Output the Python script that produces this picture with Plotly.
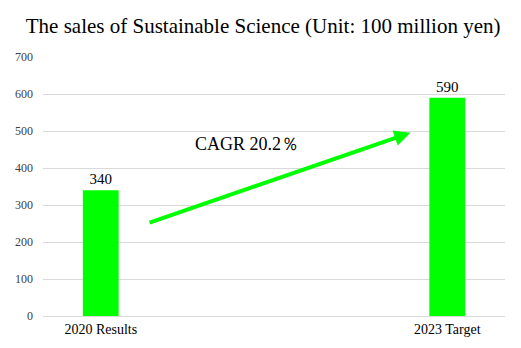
import plotly.graph_objects as go

categories = ["2020 Results", "2021", "2022", "2023 Target"]
positions = [0, 1, 2, 3]
sales = [340, None, None, 590]
tick_vals = [0, 3]
tick_text = ["2020 Results", "2023 Target"]
cagr_label = "CAGR 20.2％"
arrow_start = (0.41, 251)
arrow_end = (2.68, 495)

serif = "Times New Roman, Liberation Serif, serif"

fig = go.Figure()
fig.add_trace(go.Bar(
    x=positions, y=sales, width=0.31,
    marker=dict(color="#00FF00", line=dict(width=0)),
    text=[str(v) if v is not None else "" for v in sales],
    textposition="outside",
    textfont=dict(family=serif, size=15, color="#000000"),
    cliponaxis=False,
    hoverinfo="skip",
))

fig.add_annotation(
    x=arrow_end[0], y=arrow_end[1], ax=arrow_start[0], ay=arrow_start[1],
    xref="x", yref="y", axref="x", ayref="y",
    showarrow=True, arrowhead=2, arrowsize=0.8, arrowwidth=4,
    arrowcolor="#00FF00", text="",
)
fig.add_annotation(
    x=1.27, y=465, xref="x", yref="y", text=cagr_label, showarrow=False,
    font=dict(family=serif, size=18, color="#000000"),
)

fig.update_layout(
    width=521, height=348,
    margin=dict(l=43, r=16, t=57, b=32),
    paper_bgcolor="white", plot_bgcolor="white",
    showlegend=False,
    title=dict(text="The sales of Sustainable Science (Unit: 100 million yen)",
               x=0.505, xanchor="center", y=0.925, yanchor="middle",
               font=dict(family=serif, size=21, color="#000000")),
    xaxis=dict(range=[-0.5, 3.5], tickmode="array", tickvals=tick_vals,
               ticktext=tick_text, showgrid=False, zeroline=False,
               showline=True, linecolor="#d9d9d9", linewidth=1, ticks="",
               tickfont=dict(family=serif, size=14, color="#000000")),
    yaxis=dict(range=[0, 700], dtick=100, showgrid=True, gridcolor="#d9d9d9",
               zeroline=False, showline=False, ticks="",
               tickfont=dict(family=serif, size=12, color="#404040"),
               ticklabelstandoff=9),
)

fig.write_html("out.html")
